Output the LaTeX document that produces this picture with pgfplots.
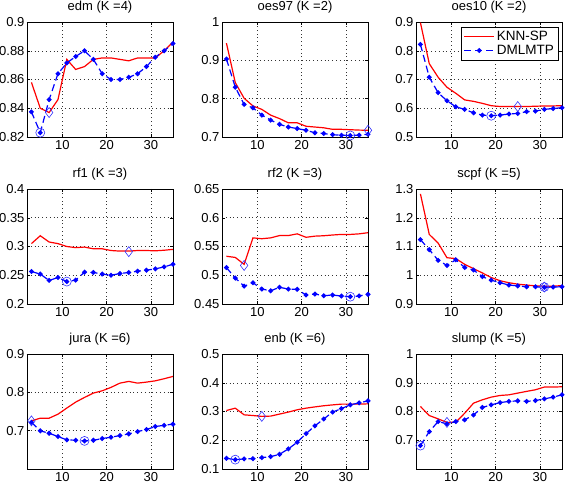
\documentclass[border=0pt]{standalone}
\usepackage{fontspec}
\setmainfont{Liberation Sans}
\usepackage{pgfplots}
\pgfplotsset{compat=1.18}
\pgfplotsset{
  mstyle/.style={
    scale only axis, width=146pt, height=115pt,
    xmin=2, xmax=35, xtick={10,20,30},
    grid=major, major grid style={black!80, line width=0.5pt, dash pattern=on 0.8pt off 3pt},
    tick align=inside, major tick length=3pt,
    tick style={black, line width=0.4pt},
    axis line style={black, line width=0.5pt},
    every tick label/.append style={font=\fontsize{13}{15}\selectfont},
    /pgf/number format/assume math mode=true,
    title style={font=\fontsize{13}{15}\selectfont, yshift=-1pt},
    anchor=south west,
    yticklabel style={/pgf/number format/fixed, xshift=1pt},
  },
  knn/.style={red, line width=1.2pt, mark=none},
  dml/.style={blue, line width=1.2pt, dash pattern=on 7pt off 4pt, mark=*, mark size=1.8pt, mark options={solid}},
  cmin/.style={blue!80, only marks, mark=o, mark size=4.5pt, mark options={line width=0.6pt}, forget plot},
  dmin/.style={blue!80, only marks, mark=diamond, mark size=5pt, mark options={line width=0.6pt}, forget plot},
}
\begin{document}
\begin{tikzpicture}
\path[use as bounding box] (0,0) rectangle (566pt,488pt);
% ---------- Row 1 ----------
\begin{axis}[mstyle, at={(27pt,351pt)}, title={edm (K =4)},
  ymin=0.82, ymax=0.9, ytick={0.82,0.84,0.86,0.88,0.9}]
\addplot[knn] coordinates {(3,0.858)(5,0.840)(7,0.837)(9,0.846)(11,0.874)(13,0.867)(15,0.869)(17,0.874)(19,0.875)(21,0.875)(23,0.874)(25,0.873)(27,0.875)(29,0.875)(31,0.875)(33,0.880)(35,0.886)};
\addplot[dml] coordinates {(3,0.8375)(5,0.823)(7,0.846)(9,0.864)(11,0.8715)(13,0.876)(15,0.880)(17,0.874)(19,0.864)(21,0.860)(23,0.860)(25,0.8615)(27,0.864)(29,0.869)(31,0.8755)(33,0.880)(35,0.885)};
\addplot[cmin] coordinates {(5,0.823)};
\addplot[dmin] coordinates {(7,0.837)};
\end{axis}
\begin{axis}[mstyle, at={(222pt,351pt)}, title={oes97 (K =2)},
  ymin=0.7, ymax=1, ytick={0.7,0.8,0.9,1}]
\addplot[knn] coordinates {(3,0.945)(5,0.842)(7,0.801)(9,0.781)(11,0.772)(13,0.757)(15,0.748)(17,0.737)(19,0.737)(21,0.728)(23,0.726)(25,0.724)(27,0.720)(29,0.720)(31,0.719)(33,0.718)(35,0.7175)};
\addplot[dml] coordinates {(3,0.9035)(5,0.830)(7,0.785)(9,0.776)(11,0.757)(13,0.744)(15,0.733)(17,0.726)(19,0.722)(21,0.7175)(23,0.711)(25,0.709)(27,0.706)(29,0.7045)(31,0.704)(33,0.705)(35,0.707)};
\addplot[cmin] coordinates {(31,0.704)};
\addplot[dmin] coordinates {(35,0.7175)};
\end{axis}
\begin{axis}[mstyle, at={(416pt,351pt)}, title={oes10 (K =2)},
  ymin=0.5, ymax=0.9, ytick={0.5,0.6,0.7,0.8,0.9},
  legend style={at={(1,1)}, anchor=north east, xshift=-4pt, yshift=-5pt, draw=black,
    font=\fontsize{13.5}{15.5}\selectfont, inner sep=2pt, row sep=-1pt},
  legend cell align=left,
  legend image code/.code={\draw[mark repeat=2,mark phase=2,#1] plot coordinates {(0pt,0pt) (15pt,0pt) (30pt,0pt)};}]
\addplot[knn] coordinates {(3,0.898)(5,0.755)(7,0.708)(9,0.673)(11,0.652)(13,0.629)(15,0.624)(17,0.617)(19,0.609)(21,0.606)(23,0.606)(25,0.606)(27,0.606)(29,0.607)(31,0.608)(33,0.608)(35,0.609)};
\addlegendentry{KNN-SP}
\addplot[dml] coordinates {(3,0.822)(5,0.708)(7,0.654)(9,0.626)(11,0.605)(13,0.596)(15,0.584)(17,0.576)(19,0.574)(21,0.576)(23,0.580)(25,0.582)(27,0.588)(29,0.590)(31,0.596)(33,0.599)(35,0.602)};
\addlegendentry{DMLMTP}
\addplot[cmin] coordinates {(19,0.574)};
\addplot[dmin] coordinates {(25,0.606)};
\end{axis}
% ---------- Row 2 ----------
\begin{axis}[mstyle, at={(27pt,184pt)}, title={rf1 (K =3)},
  ymin=0.2, ymax=0.4, ytick={0.2,0.25,0.3,0.35,0.4}]
\addplot[knn] coordinates {(3,0.305)(5,0.3187)(7,0.3078)(9,0.305)(11,0.300)(13,0.298)(15,0.299)(17,0.296)(19,0.296)(21,0.293)(23,0.292)(25,0.292)(27,0.293)(29,0.293)(31,0.2925)(33,0.2935)(35,0.295)};
\addplot[dml] coordinates {(3,0.2565)(5,0.252)(7,0.241)(9,0.246)(11,0.239)(13,0.2415)(15,0.2554)(17,0.2548)(19,0.252)(21,0.250)(23,0.253)(25,0.2548)(27,0.257)(29,0.2588)(31,0.2611)(33,0.2645)(35,0.2692)};
\addplot[cmin] coordinates {(11,0.239)};
\addplot[dmin] coordinates {(25,0.291)};
\end{axis}
\begin{axis}[mstyle, at={(222pt,184pt)}, title={rf2 (K =3)},
  ymin=0.45, ymax=0.65, ytick={0.45,0.5,0.55,0.6,0.65}]
\addplot[knn] coordinates {(3,0.533)(5,0.531)(7,0.519)(9,0.565)(11,0.5635)(13,0.565)(15,0.569)(17,0.569)(19,0.572)(21,0.566)(23,0.568)(25,0.5687)(27,0.570)(29,0.571)(31,0.571)(33,0.572)(35,0.574)};
\addplot[dml] coordinates {(3,0.5134)(5,0.495)(7,0.481)(9,0.487)(11,0.476)(13,0.473)(15,0.479)(17,0.476)(19,0.4755)(21,0.4656)(23,0.4673)(25,0.4644)(27,0.4656)(29,0.4638)(31,0.4627)(33,0.464)(35,0.4667)};
\addplot[cmin] coordinates {(31,0.4627)};
\addplot[dmin] coordinates {(7,0.517)};
\end{axis}
\begin{axis}[mstyle, at={(416pt,184pt)}, title={scpf (K =5)},
  ymin=0.9, ymax=1.3, ytick={0.9,1,1.1,1.2,1.3}]
\addplot[knn] coordinates {(3,1.283)(5,1.142)(7,1.112)(9,1.061)(11,1.058)(13,1.038)(15,1.023)(17,1.008)(19,0.992)(21,0.981)(23,0.974)(25,0.969)(27,0.966)(29,0.963)(31,0.962)(33,0.962)(35,0.964)};
\addplot[dml] coordinates {(3,1.124)(5,1.089)(7,1.052)(9,1.034)(11,1.054)(13,1.027)(15,1.018)(17,0.995)(19,0.983)(21,0.974)(23,0.966)(25,0.963)(27,0.960)(29,0.960)(31,0.958)(33,0.959)(35,0.960)};
\addplot[cmin] coordinates {(31,0.959)};
\addplot[dmin] coordinates {(31,0.959)};
\end{axis}
% ---------- Row 3 ----------
\begin{axis}[mstyle, at={(27pt,19pt)}, title={jura (K =6)},
  ymin=0.6, ymax=0.9, ytick={0.7,0.8,0.9}]
\addplot[knn] coordinates {(3,0.7256)(5,0.7326)(7,0.7326)(9,0.743)(11,0.759)(13,0.7745)(15,0.7867)(17,0.798)(19,0.804)(21,0.813)(23,0.824)(25,0.8285)(27,0.824)(29,0.8267)(31,0.830)(33,0.8355)(35,0.8415)};
\addplot[dml] coordinates {(3,0.722)(5,0.6995)(7,0.6933)(9,0.6847)(11,0.676)(13,0.675)(15,0.6733)(17,0.675)(19,0.6794)(21,0.6829)(23,0.6873)(25,0.6916)(27,0.6977)(29,0.703)(31,0.7108)(33,0.714)(35,0.717)};
\addplot[cmin] coordinates {(15,0.6733)};
\addplot[dmin] coordinates {(3,0.7256)};
\end{axis}
\begin{axis}[mstyle, at={(222pt,19pt)}, title={enb (K =6)},
  ymin=0.1, ymax=0.5, ytick={0.1,0.2,0.3,0.4,0.5}]
\addplot[knn] coordinates {(3,0.3035)(5,0.3116)(7,0.2884)(9,0.286)(11,0.283)(13,0.284)(15,0.291)(17,0.298)(19,0.306)(21,0.3116)(23,0.316)(25,0.320)(27,0.323)(29,0.3256)(31,0.3256)(33,0.3256)(35,0.3267)};
\addplot[dml] coordinates {(3,0.1372)(5,0.1326)(7,0.135)(9,0.136)(11,0.1395)(13,0.143)(15,0.151)(17,0.170)(19,0.193)(21,0.223)(23,0.250)(25,0.274)(27,0.298)(29,0.310)(31,0.3233)(33,0.330)(35,0.337)};
\addplot[cmin] coordinates {(5,0.1326)};
\addplot[dmin] coordinates {(11,0.283)};
\end{axis}
\begin{axis}[mstyle, at={(416pt,19pt)}, title={slump (K =5)},
  ymin=0.6, ymax=1, ytick={0.7,0.8,0.9,1}]
\addplot[knn] coordinates {(3,0.8174)(5,0.786)(7,0.7744)(9,0.762)(11,0.763)(13,0.794)(15,0.829)(17,0.8407)(19,0.850)(21,0.8558)(23,0.858)(25,0.864)(27,0.870)(29,0.8756)(31,0.885)(33,0.885)(35,0.886)};
\addplot[dml] coordinates {(3,0.6814)(5,0.730)(7,0.765)(9,0.757)(11,0.765)(13,0.771)(15,0.788)(17,0.814)(19,0.823)(21,0.831)(23,0.835)(25,0.837)(27,0.835)(29,0.838)(31,0.844)(33,0.850)(35,0.858)};
\addplot[cmin] coordinates {(3,0.6814)};
\addplot[dmin] coordinates {(9,0.762)};
\end{axis}
\end{tikzpicture}
\end{document}
